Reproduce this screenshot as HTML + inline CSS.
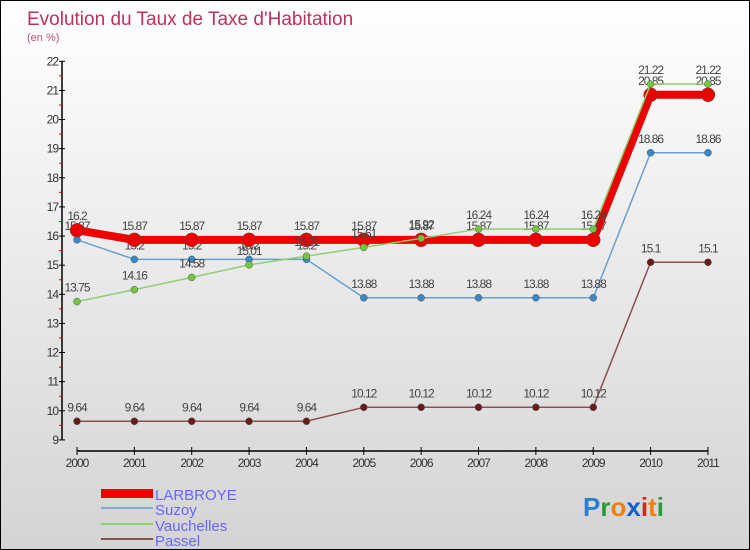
<!DOCTYPE html>
<html><head><meta charset="utf-8"><style>
body{margin:0}
#c{position:relative;width:748px;height:548px;border:1px solid #000;background:linear-gradient(#ffffff,#d4d4d4);overflow:hidden;font-family:"Liberation Sans",sans-serif}
svg text{font-family:"Liberation Sans",sans-serif}
</style></head><body>
<div id="c">
<svg id="s" width="748" height="548">
<text x="26" y="24" font-size="19" fill="#c0305a">Evolution du Taux de Taxe d'Habitation</text>
<text x="26" y="40" font-size="11" fill="#c0507a">(en %)</text>
<g id="axes"></g><g id="series"></g>
<g>
<rect x="100" y="488" width="52" height="9" fill="#e00"/>
<text x="154" y="499" font-size="15" fill="#66f">LARBROYE</text>
<line x1="100" y1="507" x2="152" y2="507" stroke="#7aaccc" stroke-width="2"/>
<text x="154" y="514" font-size="15" fill="#66f">Suzoy</text>
<line x1="100" y1="523" x2="152" y2="523" stroke="#90d070" stroke-width="2"/>
<text x="154" y="530" font-size="15" fill="#66f">Vauchelles</text>
<line x1="100" y1="538" x2="152" y2="538" stroke="#8a5050" stroke-width="2"/>
<text x="154" y="545" font-size="15" fill="#66f">Passel</text>
</g>
<g font-size="26" font-weight="bold">
<text x="582" y="515"><tspan fill="#2a7fd0">P</tspan><tspan fill="#2a9a3a">r</tspan><tspan fill="#f08010">o</tspan><tspan fill="#1060d0">x</tspan><tspan fill="#e02020">i</tspan><tspan fill="#f08010">t</tspan><tspan fill="#2a9a3a">i</tspan></text>
</g>
</svg></div>
<script>
const years=[2000,2001,2002,2003,2004,2005,2006,2007,2008,2009,2010,2011];
const larbroye=[16.2,15.87,15.87,15.87,15.87,15.87,15.87,15.87,15.87,15.87,20.85,20.85];
const suzoy=[15.87,15.2,15.2,15.2,15.2,13.88,13.88,13.88,13.88,13.88,18.86,18.86];
const vauchelles=[13.75,14.16,14.58,15.01,15.31,15.61,15.92,16.24,16.24,16.24,21.22,21.22];
const passel=[9.64,9.64,9.64,9.64,9.64,10.12,10.12,10.12,10.12,10.12,15.1,15.1];
const yTicks=[9,10,11,12,13,14,15,16,17,18,19,20,21,22];
const NS="http://www.w3.org/2000/svg";
const xS=i=>76+i*57.36;
const yS=v=>60.3+(22-v)*29.125;
function mk(t,a,p){const e=document.createElementNS(NS,t);for(const k in a)e.setAttribute(k,a[k]);p.appendChild(e);return e;}
const ax=document.getElementById('axes');
let l=mk('line',{x1:61,y1:yS(22),x2:61,y2:yS(9),stroke:'#000','stroke-width':1.5},ax);


yTicks.forEach(v=>{
 const t=mk('line',{x1:58,y1:yS(v),x2:64,y2:yS(v),stroke:'#000'},ax);
 
 
 if(v<22){const m=mk('line',{x1:58,y1:yS(v+0.5),x2:61,y2:yS(v+0.5),stroke:'#e00'},ax);
 
 }
 const tx=mk('text',{x:57,y:yS(v)+4,'font-size':12,fill:'#333','text-anchor':'end','letter-spacing':'-1'},ax);
 tx.textContent=v;
 
 
});
l=mk('line',{x1:xS(0),y1:450,x2:xS(11),y2:450,stroke:'#000','stroke-width':1.5},ax);


years.forEach((y,i)=>{
 const t=mk('line',{x1:xS(i),y1:446,x2:xS(i),y2:454,stroke:'#000'},ax);
 
 
 const tx=mk('text',{x:xS(i),y:466,'font-size':12,fill:'#333','text-anchor':'middle','letter-spacing':'-1'},ax);
 tx.textContent=y;
 
 
});
const sg=document.getElementById('series');
function series(name,data,color,w,r,dot){
 const g=mk('g',{},sg);
 
 
 const p=mk('polyline',{points:data.map((v,i)=>xS(i)+','+yS(v)).join(' '),fill:'none',stroke:color,'stroke-width':w,'stroke-linejoin':'round'},g);
 
 
 data.forEach((v,i)=>{
  const c=mk('circle',{cx:xS(i),cy:yS(v),r:r,fill:dot,stroke:'#555','stroke-width':0.5},g);
  
  
  const t=mk('text',{x:xS(i),y:yS(v)-10,'font-size':12,fill:'#444','text-anchor':'middle','letter-spacing':'-1'},g);
  t.textContent=v;
  
  
 });
}
series('passel',passel,'#8a5050',1.5,3.5,'#6a1a1a');
series('suzoy',suzoy,'#6aa0d0',1.5,3.5,'#3a88c8');
series('larbroye',larbroye,'#ee0000',8,7,'#ee0000');
series('vauchelles',vauchelles,'#90d070',1.5,3.5,'#70c840');
</script>
</body></html>
